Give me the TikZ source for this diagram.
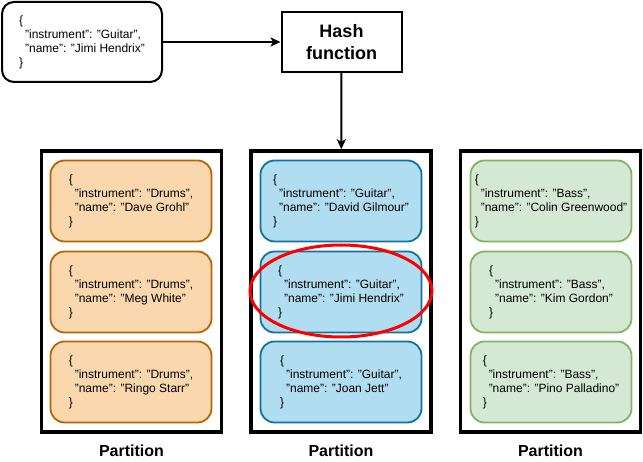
\documentclass[tikz,border=0pt]{standalone}
\usepackage{fontspec}
\setmainfont{Liberation Sans}
\usetikzlibrary{arrows.meta}

\definecolor{drumfill}{HTML}{FAD7AC}
\definecolor{drumline}{HTML}{B46504}
\definecolor{guitarfill}{HTML}{B1DDF0}
\definecolor{guitarline}{HTML}{10739E}
\definecolor{bassfill}{HTML}{D5E8D4}
\definecolor{bassline}{HTML}{82B366}

\newcommand{\record}[2]{\{\\\hspace*{6pt}"instrument": "#1",\\\hspace*{6pt}"name": "#2"\\\}}

\tikzset{
  rec/.style={draw, line width=1.8pt, rounded corners=14pt, minimum width=161pt,
    minimum height=81pt, align=left, inner sep=0pt, font=\fontsize{12}{14}\selectfont},
  drums/.style={rec, fill=drumfill, draw=drumline},
  guitar/.style={rec, fill=guitarfill, draw=guitarline},
  bass/.style={rec, fill=bassfill, draw=bassline},
  partbox/.style={draw, line width=3.5pt, minimum width=180pt, minimum height=281pt},
  parttitle/.style={font=\bfseries\fontsize{16}{19}\selectfont},
  link/.style={line width=2pt, -{Stealth[length=10pt,width=9pt,inset=2.5pt]}}
}

\begin{document}
\begin{tikzpicture}[x=1pt,y=-1pt]
\useasboundingbox (0,0) rectangle (643,462);
\node[draw, line width=2pt, rounded corners=12pt, minimum width=160pt, minimum height=80pt,
  align=left, inner sep=0pt, font=\fontsize{12}{14}\selectfont] (input) at (82,42) {\record{Guitar}{Jimi Hendrix}};
\node[draw, line width=2pt, minimum width=120pt, minimum height=60pt, align=center,
  font=\bfseries\fontsize{18}{22}\selectfont] (hash) at (341.5,42) {Hash\\function};

\node[partbox] (partA) at (131.5,291.5) {};
\node[partbox] (partB) at (341,291.5) {};
\node[partbox] (partC) at (550.5,291.5) {};

\node[drums] (drum1) at (131,201) {\record{Drums}{Dave Grohl}};
\node[drums] (drum2) at (131,292) {\record{Drums}{Meg White}};
\node[drums] (drum3) at (131,382) {\record{Drums}{Ringo Starr}};
\node[guitar] (guitar1) at (341,201) {\record{Guitar}{David Gilmour}};
\node[guitar] (guitar2) at (341,292) {\record{Guitar}{Jimi Hendrix}};
\node[guitar] (guitar3) at (341,382) {\record{Guitar}{Joan Jett}};
\node[bass] (bass1) at (551,201) {\record{Bass}{Colin Greenwood}};
\node[bass] (bass2) at (551,292) {\record{Bass}{Kim Gordon}};
\node[bass] (bass3) at (551,382) {\record{Bass}{Pino Palladino}};

\draw[red, line width=3pt] (341,291) ellipse [x radius=91, y radius=46];

\draw[link] (input) -- (hash);
\draw[link] (hash) -- (partB);

\node[parttitle] (titleA) at (131.5,451) {Partition};
\node[parttitle] (titleB) at (341,451) {Partition};
\node[parttitle] (titleC) at (550.5,451) {Partition};
\end{tikzpicture}
\end{document}
